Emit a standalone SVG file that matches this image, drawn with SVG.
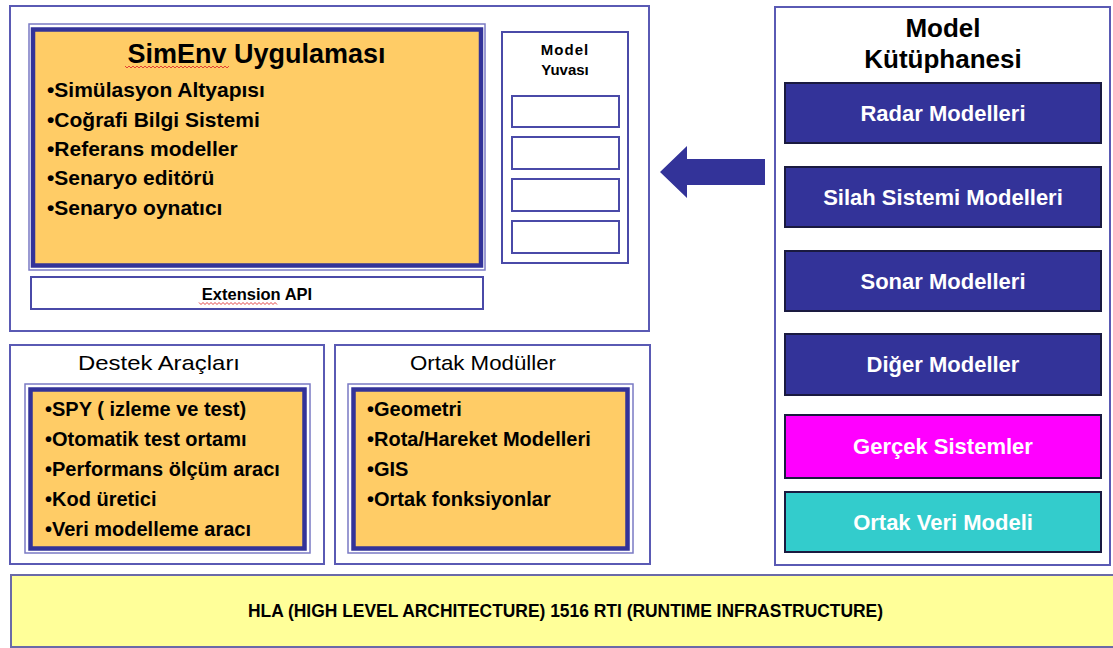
<svg xmlns="http://www.w3.org/2000/svg" width="1113" height="648" viewBox="0 0 1113 648">
  <style>
    text { font-family: "Liberation Sans", Arial, sans-serif; fill: #000; }
    .frame { fill: #fff; stroke: #5a5ab4; stroke-width: 2; }
    .hair { fill: none; stroke: #7a7ac4; stroke-width: 1.5; }
    .thick { fill: #FFCC66; stroke: #333399; stroke-width: 4.5; }
    .slot { fill: #fff; stroke: #4a4aa8; stroke-width: 2; }
    .lib { stroke: #1a1a40; stroke-width: 2; }
    .libtxt { font-size: 22px; font-weight: bold; fill: #fff; text-anchor: middle; }
    .item { font-size: 21px; font-weight: bold; }
    .item2 { font-size: 20px; font-weight: bold; }
    .head { font-size: 21px; }
    .wave { fill: none; stroke: #e03030; stroke-width: 0.9; }
  </style>

  <!-- application frame -->
  <g id="simenv-frame">
    <rect class="frame" x="10" y="6" width="639" height="325"/>
  </g>

  <!-- SimEnv application block -->
  <g id="simenv-app">
    <rect class="hair" x="29" y="24" width="456" height="246"/>
    <rect class="thick" x="33" y="29.5" width="448" height="236"/>
    <text x="256.5" y="63" font-size="27" font-weight="bold" text-anchor="middle">SimEnv Uygulaması</text>
    <path class="wave" d="M125 66 l2 2 l2 -2 l2 2 l2 -2 l2 2 l2 -2 l2 2 l2 -2 l2 2 l2 -2 l2 2 l2 -2 l2 2 l2 -2 l2 2 l2 -2 l2 2 l2 -2 l2 2 l2 -2 l2 2 l2 -2 l2 2 l2 -2 l2 2 l2 -2 l2 2 l2 -2 l2 2 l2 -2 l2 2 l2 -2 l2 2 l2 -2 l2 2 l2 -2 l2 2 l2 -2 l2 2 l2 -2 l2 2 l2 -2 l2 2 l2 -2 l2 2 l2 -2 l2 2 l2 -2 l2 2 l2 -2 l2 2 l2 -2"/>
    <text class="item" x="47" y="97">•Simülasyon Altyapısı</text>
    <text class="item" x="47" y="127">•Coğrafi Bilgi Sistemi</text>
    <text class="item" x="47" y="156">•Referans modeller</text>
    <text class="item" x="47" y="185">•Senaryo editörü</text>
    <text class="item" x="47" y="215">•Senaryo oynatıcı</text>
  </g>

  <!-- extension API bar -->
  <g id="extension-api">
    <rect class="slot" x="31" y="277" width="452" height="32"/>
    <text x="257" y="300" font-size="16.5" font-weight="bold" text-anchor="middle">Extension API</text>
    <path class="wave" d="M199 302.5 l2 2 l2 -2 l2 2 l2 -2 l2 2 l2 -2 l2 2 l2 -2 l2 2 l2 -2 l2 2 l2 -2 l2 2 l2 -2 l2 2 l2 -2 l2 2 l2 -2 l2 2 l2 -2 l2 2 l2 -2 l2 2 l2 -2 l2 2 l2 -2 l2 2 l2 -2 l2 2 l2 -2 l2 2 l2 -2 l2 2 l2 -2 l2 2 l2 -2 l2 2 l2 -2 l2 2"/>
  </g>

  <!-- model slots -->
  <g id="model-yuvasi">
    <rect class="slot" x="502" y="32" width="126" height="231"/>
    <text x="565" y="55" font-size="15" font-weight="bold" text-anchor="middle" letter-spacing="1">Model</text>
    <text x="565" y="75" font-size="15" font-weight="bold" text-anchor="middle">Yuvası</text>
    <rect class="slot" x="512" y="96" width="107" height="31"/>
    <rect class="slot" x="512" y="137" width="107" height="32"/>
    <rect class="slot" x="512" y="179" width="107" height="32"/>
    <rect class="slot" x="512" y="221" width="107" height="32"/>
  </g>

  <!-- support tools -->
  <g id="destek-araclari">
    <rect class="frame" x="10" y="345" width="314" height="219"/>
    <text class="head" x="78" y="370" textLength="162" lengthAdjust="spacingAndGlyphs">Destek Araçları</text>
    <rect class="hair" x="25" y="384" width="285" height="169"/>
    <rect class="thick" x="30.5" y="389.5" width="274" height="159"/>
    <text class="item2" x="45" y="416">•SPY ( izleme ve test)</text>
    <text class="item2" x="45" y="446">•Otomatik test ortamı</text>
    <text class="item2" x="45" y="476">•Performans ölçüm aracı</text>
    <text class="item2" x="45" y="506">•Kod üretici</text>
    <text class="item2" x="45" y="536">•Veri modelleme aracı</text>
  </g>

  <!-- common modules -->
  <g id="ortak-moduller">
    <rect class="frame" x="335" y="345" width="315" height="219"/>
    <text class="head" x="410" y="370" textLength="146" lengthAdjust="spacingAndGlyphs">Ortak Modüller</text>
    <rect class="hair" x="348" y="384" width="285" height="169"/>
    <rect class="thick" x="353.5" y="389.5" width="274" height="159"/>
    <text class="item2" x="367" y="416">•Geometri</text>
    <text class="item2" x="367" y="446">•Rota/Hareket Modelleri</text>
    <text class="item2" x="367" y="476">•GIS</text>
    <text class="item2" x="367" y="506">•Ortak fonksiyonlar</text>
  </g>

  <!-- model library -->
  <g id="model-kutuphanesi">
    <rect class="frame" x="775" y="7" width="335" height="558"/>
    <text x="943" y="37" font-size="26" font-weight="bold" text-anchor="middle">Model</text>
    <text x="943" y="68" font-size="26" font-weight="bold" text-anchor="middle">Kütüphanesi</text>
  </g>
  <g id="radar-modelleri">
    <rect class="lib" x="785" y="83" width="316" height="60" fill="#333399"/>
    <text class="libtxt" x="943" y="121">Radar Modelleri</text>
  </g>
  <g id="silah-sistemi-modelleri">
    <rect class="lib" x="785" y="167" width="316" height="60" fill="#333399"/>
    <text class="libtxt" x="943" y="205">Silah Sistemi Modelleri</text>
  </g>
  <g id="sonar-modelleri">
    <rect class="lib" x="785" y="251" width="316" height="60" fill="#333399"/>
    <text class="libtxt" x="943" y="289">Sonar Modelleri</text>
  </g>
  <g id="diger-modeller">
    <rect class="lib" x="785" y="334" width="316" height="61" fill="#333399"/>
    <text class="libtxt" x="943" y="372">Diğer Modeller</text>
  </g>
  <g id="gercek-sistemler">
    <rect class="lib" x="785" y="415" width="316" height="63" fill="#FF00FF"/>
    <text class="libtxt" x="943" y="454">Gerçek Sistemler</text>
  </g>
  <g id="ortak-veri-modeli">
    <rect class="lib" x="785" y="492" width="316" height="60" fill="#33CCCC"/>
    <text class="libtxt" x="943" y="530">Ortak Veri Modeli</text>
  </g>

  <!-- HLA RTI layer -->
  <g id="hla-rti">
    <rect x="11" y="575" width="1110" height="72" fill="#FFFF99" stroke="#6a6aa8" stroke-width="2"/>
    <text x="565.5" y="617" font-size="19" font-weight="bold" text-anchor="middle" textLength="635" lengthAdjust="spacingAndGlyphs">HLA (HIGH LEVEL ARCHITECTURE) 1516 RTI (RUNTIME INFRASTRUCTURE)</text>
  </g>

  <!-- connectors -->
  <g id="connectors">
    <polygon points="660,172 687,146 687,159 765,159 765,185 687,185 687,198" fill="#333399"/>
  </g>
</svg>
